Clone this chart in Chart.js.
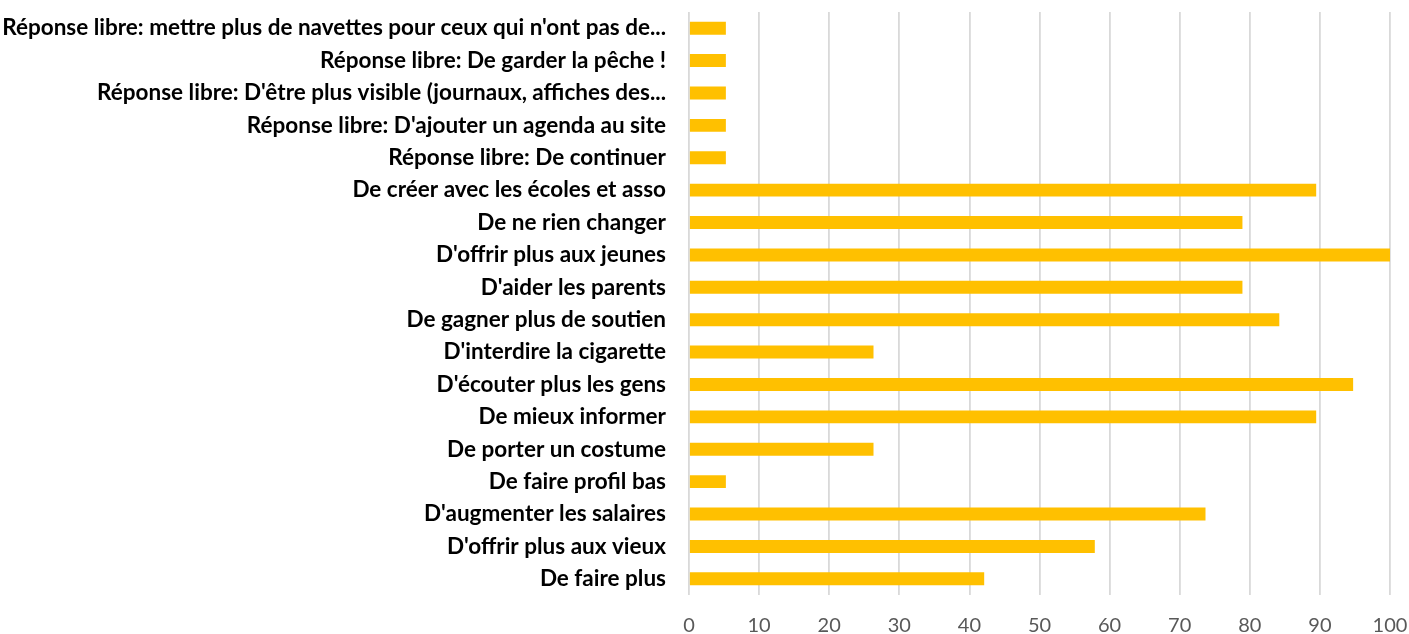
<!DOCTYPE html>
<html>
<head>
<meta charset="utf-8">
<script src="https://cdn.jsdelivr.net/npm/chart.js@4"></script>
<style>
  html, body { margin: 0; padding: 0; background: #fff; }
  #wrap { width: 1409px; height: 634px; }
</style>
</head>
<body>
<div id="wrap"><canvas id="myChart" width="1409" height="634"></canvas></div>
<script>
// Réponses, du haut vers le bas
const categories = [
  "Réponse libre: mettre plus de navettes pour ceux qui n'ont pas de...",
  "Réponse libre: De garder la pêche !",
  "Réponse libre: D'être plus visible (journaux, affiches des...",
  "Réponse libre: D'ajouter un agenda au site",
  "Réponse libre: De continuer",
  "De créer avec les écoles et asso",
  "De ne rien changer",
  "D'offrir plus aux jeunes",
  "D'aider les parents",
  "De gagner plus de soutien",
  "D'interdire la cigarette",
  "D'écouter plus les gens",
  "De mieux informer",
  "De porter un costume",
  "De faire profil bas",
  "D'augmenter les salaires",
  "D'offrir plus aux vieux",
  "De faire plus"
];

// pourcentage des répondants
const percentages = [
  5.26, 5.26, 5.26, 5.26, 5.26,
  89.47, 78.95, 100, 78.95, 84.21,
  26.32, 94.74, 89.47, 26.32, 5.26,
  73.68, 57.89, 42.11
];

const xTicks = { min: 0, max: 100, step: 10 };

const ctx = document.getElementById('myChart').getContext('2d');

const chart = new Chart(ctx, {
    type: 'bar',
    data: {
        labels: categories,
        datasets: [{
            label: 'Réponses',
            data: percentages,
            backgroundColor: '#FFC000',
            borderWidth: 0,
            barPercentage: 0.8,
            categoryPercentage: 0.5
        }]
    },
    options: {
        indexAxis: 'y',
        responsive: false,
        animation: false,
        layout: {
            padding: { top: 12, right: 19, bottom: 0, left: 0 }
        },
        plugins: {
            legend: { display: false },
            tooltip: { enabled: false }
        },
        scales: {
            x: {
                min: xTicks.min,
                max: xTicks.max,
                ticks: {
                    stepSize: xTicks.step,
                    color: '#595959',
                    padding: 19,
                    font: { family: 'Lato, "Open Sans", sans-serif', size: 20 }
                },
                grid: {
                    color: '#d9d9d9',
                    lineWidth: 1.8,
                    drawTicks: false
                },
                border: { display: false },
                afterFit: axis => {
                    axis.height = 39;
                    axis.paddingLeft = 0;
                    axis.paddingRight = 0;
                }
            },
            y: {
                grid: { display: false, drawTicks: false },
                border: { display: false },
                ticks: {
                    color: '#000',
                    padding: 23,
                    autoSkip: false,
                    font: { family: 'Lato, "Open Sans", sans-serif', size: 22.5, weight: 'bold' }
                },
                afterFit: axis => {
                    axis.width = 689;
                    axis.paddingTop = 0;
                    axis.paddingBottom = 0;
                }
            }
        }
    }
});
</script>
</body>
</html>
